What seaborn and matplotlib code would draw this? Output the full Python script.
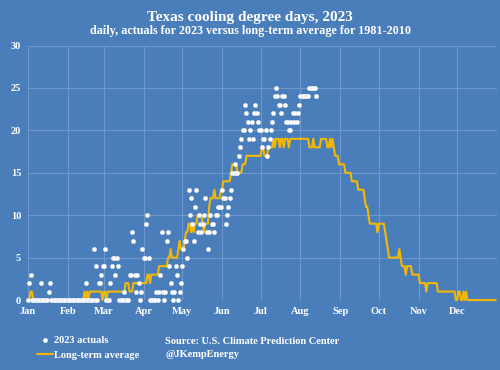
import pandas as pd
import matplotlib
matplotlib.use('Agg')
import matplotlib.pyplot as plt
import matplotlib.dates as mdates
import seaborn as sns

# long-term average (1981-2010), one value per day, by month
avg_jan = [0,0,1,1,0,0,0,0,0,0,0,0,0,0,0,0,0,0,0,0,0,0,0,0,0,0,0,0,0,0,0]
avg_feb = [0,0,0,0,0,0,0,0,0,0,0,0,0,1,0,1,0,1,1,1,1,1,1,1,1,1,1,0]
avg_mar = [1,1,0,1,1,1,1,1,1,1,1,1,1,1,1,1,1,2,2,2,1,1,1,2,2,2,2,2,2,2,2]
avg_apr = [2,2,2,3,3,2,3,3,3,3,3,3,4,4,4,4,4,4,4,5,5,6,5,5,5,5,5,6,7,6]
avg_may = [6,6,7,8,8,9,9,8,9,8,9,9,10,10,10,10,9,8,9,9,9,11,12,12,12,13,12,12,12,12,13]
avg_jun = [13,14,14,14,14,14,14,15,16,16,16,16,15,15,15,15,16,16,16,17,17,17,17,17,17,17,17,17,17,17]
avg_jul = [17,18,18,17,17,17,18,18,18,18,19,18,19,19,19,18,19,19,18,19,19,19,18,19,19,19,19,19,19,19,19]
avg_aug = [19,19,19,19,19,19,19,18,18,18,19,18,18,18,18,18,19,19,19,19,19,18,18,19,18,19,18,17,17,17,16]
avg_sep = [16,16,16,16,15,15,15,15,15,14,14,14,14,14,13,13,13,13,13,12,11,11,10,9,9,9,9,9,9,8]
avg_oct = [9,9,9,9,9,8,7,6,5,5,5,5,5,5,5,5,6,5,4,4,4,3,4,4,4,4,3,3,3,3,3]
avg_nov = [3,2,2,2,2,2,1,2,2,2,2,2,2,2,2,1,1,1,1,1,1,1,1,1,1,1,1,1,1,0]
avg_dec = [0,1,1,0,0,1,0,1,0,0,0,0,0,0,0,0,0,0,0,0,0,0,0,0,0,0,0,0,0,0,0]

# 2023 actuals, Jan 1 to mid-August
act_jan = [0,2,3,0,0,0,0,0,0,0,2,0,0,0,0,0,1,2,0,0,0,0,0,0,0,0,0,0,0,0,0]
act_feb = [0,0,0,0,0,0,0,0,0,0,0,0,0,0,2,0,0,0,0,0,6,0,4,0,2,2,3,4]
act_mar = [4,6,0,0,0,2,4,5,5,3,5,4,0,0,0,0,1,0,0,0,3,3,8,7,3,1,3,2,0,1,6]
act_apr = [5,5,9,10,5,0,0,0,0,0,1,0,1,3,8,1,0,1,7,8,4,2,1,0,1,4,3,0,1,2]
act_may = [4,6,7,7,5,13,10,12,9,7,11,13,8,10,9,8,9,10,12,8,6,8,10,9,9,8,10,10,11,11,11]
act_jun = [13,12,12,9,10,11,12,13,15,15,16,15,15,17,18,19,20,20,23,22,21,19,20,21,19,22,23,22,21,20]
act_jul = [20,18,19,19,20,17,18,19,20,21,22,24,25,24,23,23,22,24,24,23,21,21,20,20,21,22,21,22,21,22,23]
act_aug = [24,24,24,24,24,24,24,25,25,25,25,25,24]

month_labels = ['Jan','Feb','Mar','Apr','May','Jun','Jul','Aug','Sep','Oct','Nov','Dec']

avg = (avg_jan + avg_feb + avg_mar + avg_apr + avg_may + avg_jun +
       avg_jul + avg_aug + avg_sep + avg_oct + avg_nov + avg_dec)
act = act_jan + act_feb + act_mar + act_apr + act_may + act_jun + act_jul + act_aug

df_avg = pd.DataFrame({'date': pd.date_range('2023-01-01', periods=len(avg)), 'cdd': avg})
df_act = pd.DataFrame({'date': pd.date_range('2023-01-01', periods=len(act)), 'cdd': act})

bg = '#4A7EBB'
grid = '#6E98CC'
sns.set_theme(style='dark')
plt.rcParams['font.family'] = ['Liberation Serif', 'DejaVu Serif']
plt.rcParams['font.weight'] = 'bold'

fig = plt.figure(figsize=(5, 3.7), dpi=100, facecolor=bg)
ax = fig.add_axes([0.056, 0.189, 0.938, 0.688])
ax.set_facecolor(bg)

sns.scatterplot(data=df_act, x='date', y='cdd', color='white', s=10,
                edgecolor='#D8E2EE', linewidth=0.3, label='2023 actuals', ax=ax, zorder=3)
sns.lineplot(data=df_avg, x='date', y='cdd', color='#F5B800', linewidth=1.5,
             label='Long-term average', ax=ax, zorder=2)
ax.lines[-1].set_clip_on(False)
for c in ax.collections:
    c.set_clip_on(False)

ax.set_xlim(pd.Timestamp('2023-01-01'), pd.Timestamp('2024-01-01'))
ax.set_ylim(0, 30)
ax.set_yticks(range(0, 31, 5))
ax.xaxis.set_major_locator(mdates.MonthLocator())
ax.set_xticks(ax.get_xticks())
ax.set_xticklabels(month_labels + [''] * (len(ax.get_xticks()) - 12))
ax.grid(True, color=grid, linewidth=0.8)
ax.tick_params(axis='both', colors='white', labelsize=7.5, length=0, pad=5)
for lab in ax.get_xticklabels() + ax.get_yticklabels():
    lab.set_fontweight('bold')
ax.set_xlabel('')
ax.set_ylabel('')
for s in ax.spines.values():
    s.set_visible(False)

fig.text(0.5, 0.952, 'Texas cooling degree days, 2023', ha='center', va='center',
         color='white', fontsize=11, fontweight='bold')
fig.text(0.5, 0.915, 'daily, actuals for 2023 versus long-term average for 1981-2010',
         ha='center', va='center', color='white', fontsize=8.7, fontweight='bold')

ax.get_legend().remove()
h, l = ax.get_legend_handles_labels()
leg = fig.legend(h, l, loc='center left', bbox_to_anchor=(0.055, 0.06), frameon=False,
                 fontsize=7.5, handlelength=1.5, handletextpad=0.1, labelspacing=0.5)
for t in leg.get_texts():
    t.set_color('white')
    t.set_fontweight('bold')

fig.text(0.33, 0.076, 'Source: U.S. Climate Prediction Center', color='white',
         fontsize=7.5, fontweight='bold', va='center')
fig.text(0.33, 0.041, '@JKempEnergy', color='white', fontsize=7.5,
         fontweight='bold', va='center')

fig.savefig('out.png', dpi=100, facecolor=bg)
